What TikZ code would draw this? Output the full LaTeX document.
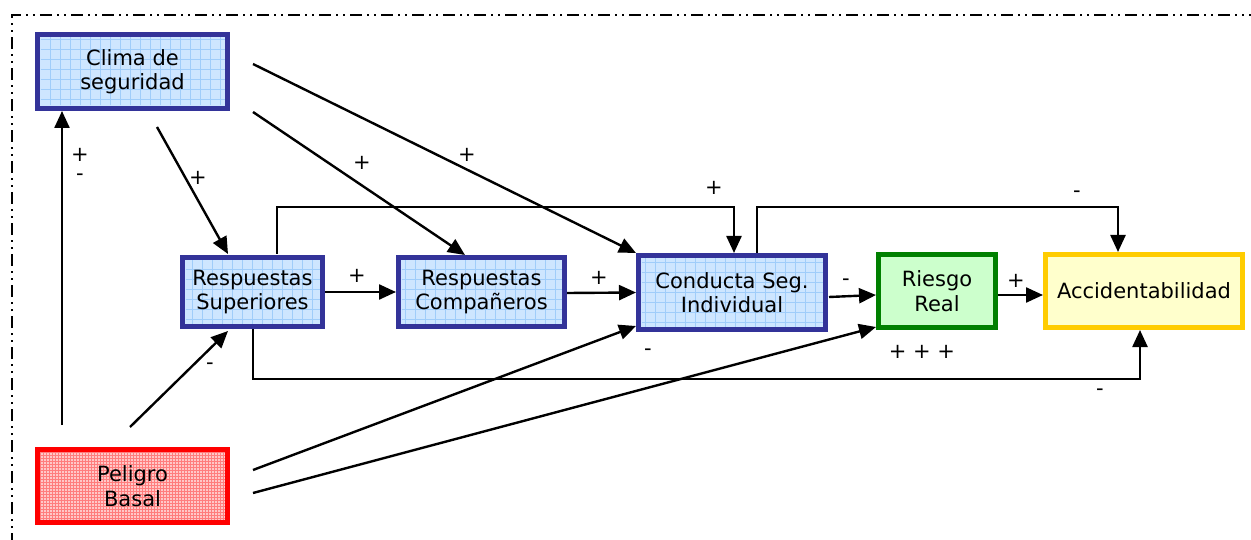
\documentclass[tikz,border=0pt]{standalone}
\usepackage{fontspec}
\setmainfont{DejaVu Sans}
\usetikzlibrary{arrows.meta}
\definecolor{boxblue}{RGB}{51,51,153}
\definecolor{fillblue}{RGB}{206,230,255}
\definecolor{gridblue}{RGB}{160,205,250}
\definecolor{boxgreen}{RGB}{0,128,0}
\definecolor{fillgreen}{RGB}{204,255,204}
\definecolor{boxyellow}{RGB}{255,204,0}
\definecolor{fillyellow}{RGB}{255,255,204}
\definecolor{boxred}{RGB}{255,0,0}
\definecolor{fillred}{RGB}{255,200,200}
\definecolor{gridred}{RGB}{255,125,125}
\tikzset{
  every node/.style={font=\fontsize{21}{24.5}\selectfont, align=center, inner sep=0pt},
  basebox/.style={line width=5pt, draw, rectangle},
  bluebox/.style={basebox, draw=boxblue, fill=fillblue,
    path picture={\draw[gridblue, line width=0.9pt]
      ([xshift=3pt,yshift=3pt]path picture bounding box.south west) grid[step=10pt]
      (path picture bounding box.north east);}},
  redbox/.style={basebox, draw=boxred, fill=fillred,
    path picture={\draw[gridred, line width=0.8pt]
      (path picture bounding box.south west) grid[step=3pt]
      (path picture bounding box.north east);}},
  greenbox/.style={basebox, draw=boxgreen, fill=fillgreen},
  yellowbox/.style={basebox, draw=boxyellow, fill=fillyellow},
  link/.style={line width=2.4pt, -{Triangle[length=17pt,width=15pt]}},
  sign/.style={font=\fontsize{21}{24.5}\selectfont},
  frameline/.style={line width=1.6pt, dash pattern=on 12pt off 5pt on 2pt off 5pt on 2pt off 5pt}
}
\begin{document}
\begin{tikzpicture}[x=1pt,y=-1pt]
  \useasboundingbox (0,0) rectangle (1251,540);
  % surrounding frame
  \draw[frameline] (12,545) -- (12,15) -- (1260,15);

  % boxes
  \node[bluebox, minimum width=190pt, minimum height=74pt] (clima) at (132.5,71.5) {Clima de\\seguridad};
  \node[bluebox, minimum width=140pt, minimum height=69pt] (sup) at (252.5,292) {Respuestas\\Superiores};
  \node[bluebox, minimum width=166pt, minimum height=69pt] (comp) at (481.5,292) {Respuestas\\Compañeros};
  \node[bluebox, minimum width=187pt, minimum height=74pt] (cond) at (732,292.5) {Conducta Seg.\\Individual};
  \node[greenbox, minimum width=117pt, minimum height=73pt] (riesgo) at (937,291) {Riesgo\\Real};
  \node[yellowbox, minimum width=197pt, minimum height=73pt] (acc) at (1144,291) {Accidentabilidad};
  \node[redbox, minimum width=190pt, minimum height=73pt] (pel) at (132.5,486) {Peligro\\Basal};

  % free ends of the connectors
  \coordinate (p1) at (62,425);
  \coordinate (p2) at (130,427);
  \coordinate (p3) at (253,470);
  \coordinate (p4) at (253,493);
  \coordinate (c1) at (157,127);
  \coordinate (c2) at (253,112);
  \coordinate (c3) at (253,64);
  \coordinate (condout) at (829,297);
  \coordinate (riesgoin) at (876,295);
  \coordinate (riesgoout) at (998,295);
  \coordinate (accin) at (1043,295);

  % connectors
  \draw[link] (p1) -- (p1 |- clima.south);
  \draw[link] (p2) -- (228,331);
  \draw[link] (c1) -- (228,254);
  \draw[link] (c2) -- (465,255);
  \draw[link] (c3) -- (636,253);
  \draw[link] (sup.east) -- (comp.west);
  \draw[link] (comp.east) ++(0,1) -- (cond.west);
  \draw[link] (condout) -- (riesgoin);
  \draw[link] (riesgoout) -- (accin);
  \draw[link] (p3) -- (636,326);
  \draw[link] (p4) -- (876,327);
  \draw[link] (277,254) -- (277,207) -- (734,207) -- (734,253);
  \draw[link] (757,253) -- (757,207) -- (1118,207) -- (1118,252);
  \draw[link] (253,329) -- (253,379) -- (1140,379) -- (1140,330);

  % signs
  \node[sign] at (80,155) {+};
  \node[sign] at (80,177) {-};
  \node[sign] at (198,178) {+};
  \node[sign] at (210,366) {-};
  \node[sign] at (362,163) {+};
  \node[sign] at (467,155) {+};
  \node[sign] at (357,276) {+};
  \node[sign] at (599,278) {+};
  \node[sign] at (714,188) {+};
  \node[sign] at (1077,194) {-};
  \node[sign] at (846,282) {-};
  \node[sign] at (1016,281) {+};
  \node[sign] at (648,352) {-};
  \node[sign] at (922,352) {+ + +};
  \node[sign] at (1100,392) {-};
\end{tikzpicture}
\end{document}
